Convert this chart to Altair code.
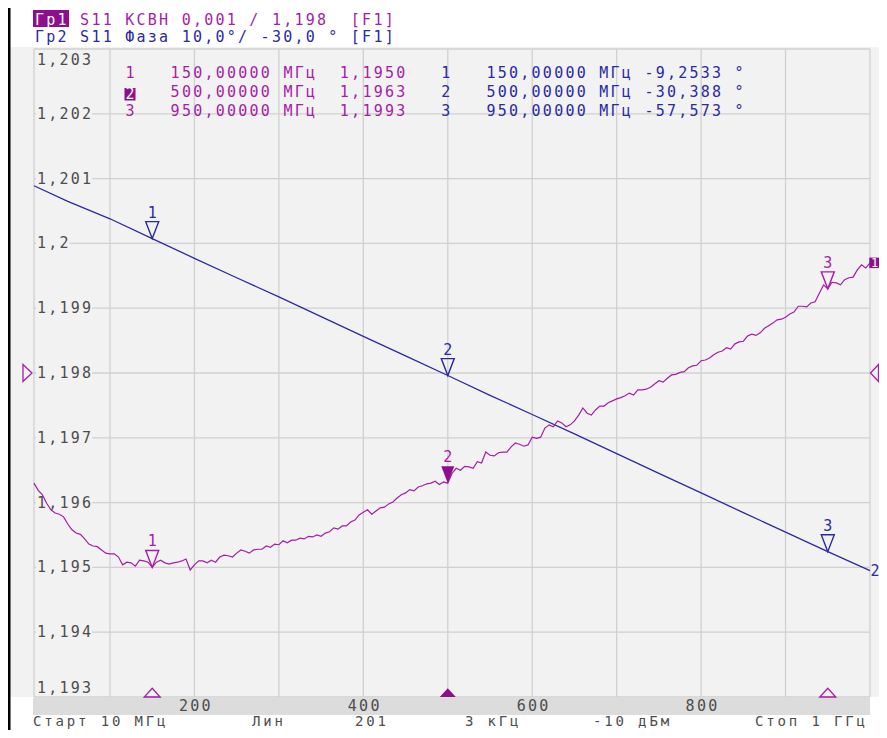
import altair as alt
import pandas as pd

# ---------------- data ----------------
FREQ_DOMAIN = [10, 1000]          # MHz, start / stop
SWR_DOMAIN = [1.193, 1.203]       # 0.001 / div, ref 1.198
PHASE_DOMAIN = [-80, 20]          # 10 deg / div, ref -30
REF_SWR = 1.198

FREQ_MHZ = list(range(10, 1001, 5))
SWR = [1.19630, 1.19619, 1.19612, 1.19599, 1.19589, 1.19584, 1.19582, 1.19578, 1.19567, 1.19558,
       1.19553, 1.19551, 1.19544, 1.19536, 1.19533, 1.19532, 1.19527, 1.19522, 1.19521, 1.19521,
       1.19516, 1.19504, 1.19508, 1.19507, 1.19502, 1.19511, 1.19510, 1.19508, 1.19500, 1.19508,
       1.19511, 1.19507, 1.19505, 1.19507, 1.19508, 1.19510, 1.19513, 1.19496, 1.19504, 1.19510,
       1.19510, 1.19507, 1.19511, 1.19508, 1.19516, 1.19519, 1.19518, 1.19516, 1.19522, 1.19527,
       1.19525, 1.19522, 1.19527, 1.19528, 1.19528, 1.19533, 1.19531, 1.19536, 1.19535, 1.19541,
       1.19538, 1.19542, 1.19542, 1.19545, 1.19544, 1.19548, 1.19547, 1.19550, 1.19548, 1.19553,
       1.19555, 1.19561, 1.19559, 1.19564, 1.19564, 1.19570, 1.19573, 1.19581, 1.19585, 1.19589,
       1.19582, 1.19587, 1.19592, 1.19593, 1.19598, 1.19601, 1.19607, 1.19612, 1.19615, 1.19620,
       1.19618, 1.19624, 1.19626, 1.19629, 1.19630, 1.19633, 1.19628, 1.19632, 1.19630, 1.19645,
       1.19653, 1.19650, 1.19656, 1.19655, 1.19653, 1.19663, 1.19661, 1.19678, 1.19673, 1.19672,
       1.19677, 1.19678, 1.19678, 1.19686, 1.19692, 1.19690, 1.19687, 1.19689, 1.19701, 1.19699,
       1.19701, 1.19715, 1.19720, 1.19717, 1.19726, 1.19723, 1.19717, 1.19720, 1.19726, 1.19735,
       1.19746, 1.19738, 1.19735, 1.19743, 1.19749, 1.19749, 1.19754, 1.19757, 1.19760, 1.19762,
       1.19765, 1.19769, 1.19766, 1.19774, 1.19774, 1.19775, 1.19778, 1.19783, 1.19788, 1.19786,
       1.19792, 1.19797, 1.19798, 1.19801, 1.19802, 1.19808, 1.19811, 1.19812, 1.19819, 1.19820,
       1.19823, 1.19828, 1.19832, 1.19834, 1.19839, 1.19837, 1.19845, 1.19848, 1.19849, 1.19857,
       1.19860, 1.19858, 1.19862, 1.19869, 1.19873, 1.19877, 1.19882, 1.19883, 1.19886, 1.19891,
       1.19894, 1.19903, 1.19903, 1.19902, 1.19908, 1.19910, 1.19923, 1.19936, 1.19930, 1.19940,
       1.19939, 1.19936, 1.19944, 1.19947, 1.19948, 1.19959, 1.19967, 1.19962, 1.19970]
assert len(SWR) == len(FREQ_MHZ)

PHASE_FREQ_MHZ = [10, 50, 100, 150, 200, 250, 300, 350, 400, 450, 500,
                  550, 600, 650, 700, 750, 800, 850, 900, 950, 1000]
PHASE_DEG = [-1.1, -3.5, -6.2, -9.25, -12.3, -15.3, -18.25, -21.3, -24.35, -27.35, -30.39,
             -33.45, -36.4, -39.4, -42.45, -45.5, -48.5, -51.55, -54.55, -57.57, -60.5]

MARKER_ID = ["1", "2", "3"]
MARKER_FREQ = [150, 500, 950]
MARKER_SWR = [1.1950, 1.1963, 1.1993]
MARKER_PHASE = [-9.2533, -30.388, -57.573]
ACTIVE_MARKER = "2"

Y_TICKS = [1.203, 1.202, 1.201, 1.200, 1.199, 1.198, 1.197, 1.196, 1.195, 1.194, 1.193]
X_GRID = [100, 200, 300, 400, 500, 600, 700, 800, 900, 1000]
X_TICKS = [200, 400, 600, 800]

HEADER_1 = "Гр1 S11 КСВН 0,001 / 1,198  [F1]"
HEADER_2 = "Гр2 S11 Фаза 10,0°/ -30,0 ° [F1]"
STATUS = ["Старт 10 МГц", "Лин", "201", "3 кГц", "-10 дБм", "Стоп 1 ГГц"]

# ---------------- style / layout ----------------
FONT = "DejaVu Sans Mono"
FS = 15
P = 11.28                 # character pitch of the instrument font
W, H = 836, 648
PAD = {"left": 26, "top": 41, "right": 9, "bottom": 33}
RIGHT_EDGE = W + PAD["right"]     # last visible pixel column (plot coords)
MAG = "#a51ea5"
MAG_BOX = "#8e0e8e"
BLUE = "#2a2aa2"
GREY_TXT = "#4d4d4d"
GRID = "#d0d0d0"
BG = "#f2f2f2"
BAND = "#dcdcdc"

xs = alt.Scale(domain=FREQ_DOMAIN, nice=False, zero=False)
ys = alt.Scale(domain=SWR_DOMAIN, nice=False, zero=False)
ps = alt.Scale(domain=PHASE_DOMAIN, nice=False, zero=False)


def X(field="f"):
    return alt.X(f"{field}:Q", scale=xs, axis=None)


def Y(field="v"):
    return alt.Y(f"{field}:Q", scale=ys, axis=None)


def YP(field="p"):
    return alt.Y(f"{field}:Q", scale=ps, axis=None)


def PX(field):
    return alt.X(f"{field}:Q", scale=None, axis=None)


def PY(field):
    return alt.Y(f"{field}:Q", scale=None, axis=None)


def comma(s):
    return s.replace(".", ",")


one = pd.DataFrame({"k": [0]})
layers = []

# backdrop, left frame line, bottom band
layers.append(alt.Chart(one).mark_rect(color=BG).encode(
    x=alt.value(-24), x2=alt.value(RIGHT_EDGE), y=alt.value(-2), y2=alt.value(H)))
layers.append(alt.Chart(one).mark_rule(color="black", strokeWidth=3).encode(
    x=alt.value(-25), y=alt.value(-41), y2=alt.value(H + PAD["bottom"])))
layers.append(alt.Chart(one).mark_rect(color=BAND).encode(
    x=alt.value(-1), x2=alt.value(W), y=alt.value(H + 1), y2=alt.value(H + 18)))

# vertical grid
vgrid = pd.DataFrame({"f": [FREQ_DOMAIN[0]] + X_GRID})
layers.append(alt.Chart(vgrid).mark_rule(color=GRID, strokeWidth=1.3).encode(
    x=X(), y=alt.value(0), y2=alt.value(H)))

# y labels + horizontal grid (gridline interrupted by the label)
LBL_X = 3
y_labels = [comma(f"{v:.3f}".rstrip("0")) for v in Y_TICKS]
hrows, ylrows = [], []
for j, (v, lab) in enumerate(zip(Y_TICKS, y_labels)):
    edge = j == 0 or j == len(Y_TICKS) - 1
    if edge:
        hrows.append({"v": v, "x0": 0, "x1": W})
    else:
        hrows.append({"v": v, "x0": 0, "x1": LBL_X - 1})
        hrows.append({"v": v, "x0": LBL_X + (len(lab) - 1) * P + 10, "x1": W})
    grp = "top" if j == 0 else ("bot" if j == len(Y_TICKS) - 1 else "mid")
    for i, c in enumerate(lab):
        ylrows.append({"v": v, "ch": c, "px": LBL_X + i * P, "grp": grp})
layers.append(alt.Chart(pd.DataFrame(hrows)).mark_rule(color=GRID, strokeWidth=1.3).encode(
    x=PX("x0"), x2=alt.X2("x1"), y=Y()))
yl = pd.DataFrame(ylrows)
for grp, dy in [("mid", 0), ("top", 11), ("bot", -9)]:
    layers.append(alt.Chart(yl[yl.grp == grp]).mark_text(
        align="left", baseline="middle", dy=dy, font=FONT, fontSize=FS, color=GREY_TXT
    ).encode(x=PX("px"), y=Y(), text="ch:N"))

# x labels in the band
for i in range(3):
    d = pd.DataFrame({"f": X_TICKS, "ch": [str(t)[i] for t in X_TICKS]})
    layers.append(alt.Chart(d).mark_text(
        align="left", baseline="alphabetic", dx=-15.5 + i * P, font=FONT, fontSize=FS, color=GREY_TXT
    ).encode(x=X(), y=alt.value(H + 14), text="ch:N"))

# traces
phase_df = pd.DataFrame({"f": PHASE_FREQ_MHZ, "p": PHASE_DEG})
swr_df = pd.DataFrame({"f": FREQ_MHZ, "v": SWR})
layers.append(alt.Chart(phase_df).mark_line(color=BLUE, strokeWidth=1.3).encode(x=X(), y=YP()))
layers.append(alt.Chart(swr_df).mark_line(color=MAG, strokeWidth=1.2).encode(x=X(), y=Y()))

# markers
mk = pd.DataFrame({"id": MARKER_ID, "f": MARKER_FREQ, "v": MARKER_SWR, "p": MARKER_PHASE})
TRI_DOWN = "M0,0L-1,-2.6L1,-2.6Z"
TRI_UP = "M-1,0L1,0L0,-1.1Z"
base = alt.Chart(mk)
layers.append(base.mark_point(shape=TRI_DOWN, size=169, filled=False, color=BLUE,
                              strokeWidth=1.4, opacity=1).encode(x=X(), y=YP()))
layers.append(base.mark_text(dy=-21, baseline="alphabetic", align="center", font=FONT,
                             fontSize=FS, color=BLUE).encode(x=X(), y=YP(), text="id:N"))
inactive = base.transform_filter(alt.datum.id != ACTIVE_MARKER)
active = base.transform_filter(alt.datum.id == ACTIVE_MARKER)
layers.append(inactive.mark_point(shape=TRI_DOWN, size=169, filled=False, color=MAG,
                                  strokeWidth=1.4, opacity=1).encode(x=X(), y=Y()))
layers.append(active.mark_point(shape=TRI_DOWN, size=169, filled=True, color=MAG_BOX,
                                opacity=1).encode(x=X(), y=Y()))
layers.append(base.mark_text(dy=-21, baseline="alphabetic", align="center", font=FONT,
                             fontSize=FS, color=MAG).encode(x=X(), y=Y(), text="id:N"))
# marker position indicators at the bottom edge
layers.append(inactive.mark_point(shape=TRI_UP, size=256, filled=False, color=MAG,
                                  strokeWidth=1.3, opacity=1).encode(x=X(), y=alt.value(H)))
layers.append(active.mark_point(shape=TRI_UP, size=256, filled=True, color=MAG_BOX,
                                opacity=1).encode(x=X(), y=alt.value(H)))

# reference level indicators
ref = pd.DataFrame({"v": [REF_SWR]})
layers.append(alt.Chart(ref).mark_point(shape="M0,-1L0,1L1.06,0Z", size=289, filled=False,
                                        color=MAG, strokeWidth=1.3, opacity=1).encode(
    x=alt.value(-11), y=Y()))
layers.append(alt.Chart(ref).mark_point(shape="M0,0L0.94,-1L0.94,1Z", size=289, filled=False,
                                        color=MAG, strokeWidth=1.3, opacity=1).encode(
    x=alt.value(RIGHT_EDGE - 8.5), y=Y()))

# trace end labels at the right edge
end_swr = pd.DataFrame({"v": [SWR[-1]], "t": ["1"]})
end_ph = pd.DataFrame({"p": [PHASE_DEG[-1]], "t": ["2"]})
layers.append(alt.Chart(end_swr).mark_point(shape="square", size=110, filled=True, color=MAG_BOX,
                                            opacity=1).encode(x=alt.value(RIGHT_EDGE - 4.5), y=Y()))
layers.append(alt.Chart(end_swr).mark_text(align="center", baseline="middle", font=FONT, fontSize=12,
                                           color="white").encode(
    x=alt.value(RIGHT_EDGE - 4.5), y=Y(), text="t:N"))
layers.append(alt.Chart(end_ph).mark_text(align="left", baseline="middle", font=FONT, fontSize=FS,
                                          color=BLUE).encode(
    x=alt.value(RIGHT_EDGE - 8.5), y=YP(), text="t:N"))

# ---------------- fixed-pitch annotation text ----------------
rows = []
status_rows = []


def put(s, x0, y0, color, white_first=0, first_dy=0, into=None):
    target = rows if into is None else into
    first = True
    for i, c in enumerate(s):
        if c != " ":
            target.append({"ch": c, "px": x0 + i * P, "py": y0 + (first_dy if first else 0),
                           "col": "white" if i < white_first else color})
            first = False


boxes = []
# header
boxes.append({"x0": -1, "x1": 35, "y0": -39, "y1": -22})
put(HEADER_1, 1, -24, MAG, white_first=3)
put(HEADER_2, 1, -7, BLUE)

# marker table
TX0 = 91.5
ROW_Y = [29, 48, 67]
for mid, f, v, p, ry in zip(MARKER_ID, MARKER_FREQ, MARKER_SWR, MARKER_PHASE, ROW_Y):
    fs = comma(f"{f:.5f}")
    mag = f"{mid}   {fs} МГц  {comma(f'{v:.4f}')}"
    blu = f"{mid}   {fs} МГц {comma(f'{p:.5g}')} °"
    act = mid == ACTIVE_MARKER
    if act:
        boxes.append({"x0": TX0 - 1, "x1": TX0 + 10, "y0": ry - 9, "y1": ry + 3.5})
    put(mag, TX0, ry, MAG, white_first=1 if act else 0, first_dy=2 if act else 0)
    put(blu, TX0 + 28 * P, ry, BLUE)

# status line
STATUS_X = [-1, 218, 321, 431, 559, 721]
for s, x0 in zip(STATUS, STATUS_X):
    put(s, x0, H + 28.5, GREY_TXT, into=status_rows)

layers.append(alt.Chart(pd.DataFrame(boxes)).mark_rect(color=MAG_BOX).encode(
    x=PX("x0"), x2=alt.X2("x1"), y=PY("y0"), y2=alt.Y2("y1")))
layers.append(alt.Chart(pd.DataFrame(rows)).mark_text(
    align="left", baseline="alphabetic", font=FONT, fontSize=FS
).encode(x=PX("px"), y=PY("py"), text="ch:N", color=alt.Color("col:N", scale=None)))
layers.append(alt.Chart(pd.DataFrame(status_rows)).mark_text(
    align="left", baseline="alphabetic", font=FONT, fontSize=14
).encode(x=PX("px"), y=PY("py"), text="ch:N", color=alt.Color("col:N", scale=None)))

chart = alt.layer(*layers).resolve_scale(
    x="independent", y="independent", color="independent"
).properties(
    width=W, height=H,
    autosize=alt.AutoSizeParams(type="none"),
    padding=PAD,
    background="white",
).configure_view(stroke=None)

chart.save("out.html", embed_options={"renderer": "svg", "actions": False})
